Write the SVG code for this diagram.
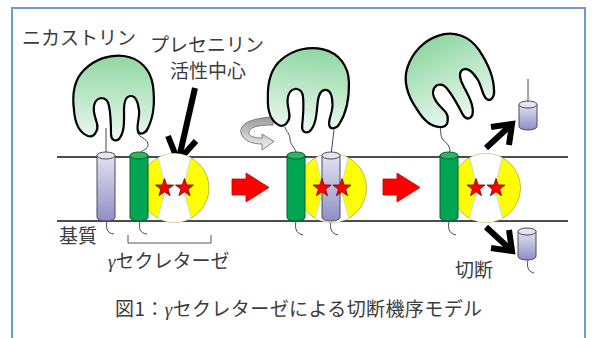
<svg xmlns="http://www.w3.org/2000/svg" xmlns:xlink="http://www.w3.org/1999/xlink" width="592" height="338" viewBox="0 0 592 338">
  <style>
    .lbl { font-family: "Noto Sans CJK JP", "Noto Sans", sans-serif; font-size: 19px; fill: #3c3c3c; }
    .cap { letter-spacing: 0.4px; }
    .greek { font-family: "Liberation Serif", "DejaVu Serif", serif; font-style: italic; }
    .membrane { stroke: #111; stroke-width: 1.3; fill: none; }
    .thread { stroke: #333; stroke-width: 0.9; fill: none; }
    .blob { fill: url(#gBlob); stroke: #000; stroke-width: 2.2; stroke-linejoin: round; }
    .subBody { fill: url(#gSub); stroke: #4a4a5a; stroke-width: 1; }
    .subTop { fill: #e6e6f2; stroke: #4a4a5a; stroke-width: 1; }
    .psBody { fill: #00a651; stroke: #00602c; stroke-width: 1; }
    .psTop { fill: #2bb566; stroke: #00602c; stroke-width: 1; }
    .pocket { fill: #ffff00; stroke: #a8a840; stroke-width: 0.8; }
    .gap { fill: #ffffff; stroke: #b4dfe9; stroke-width: 0.9; }
    .star { fill: #ff0000; stroke: #7a0000; stroke-width: 0.8; stroke-linejoin: round; }
    .redArrow { fill: #ff0000; stroke: #c00000; stroke-width: 0.8; }
    .bigArrow { fill: none; stroke: #000; stroke-width: 6; stroke-linejoin: miter; stroke-linecap: butt; }
    .bracket { fill: none; stroke: #555; stroke-width: 1; }
  </style>
  <defs>
    <linearGradient id="gBlob" x1="0" y1="0" x2="0" y2="1">
      <stop offset="0" stop-color="#8fd6a2"/>
      <stop offset="1" stop-color="#edf9f0"/>
    </linearGradient>
    <linearGradient id="gSub" x1="0" y1="0" x2="0" y2="1">
      <stop offset="0" stop-color="#e2e2f0"/>
      <stop offset="1" stop-color="#8e8ec6"/>
    </linearGradient>
    <linearGradient id="gTurn" x1="0" y1="0" x2="0" y2="1">
      <stop offset="0" stop-color="#9a9a9a"/>
      <stop offset="1" stop-color="#f4f4f4"/>
    </linearGradient>
    <clipPath id="pocketClip"><circle cx="0" cy="0" r="34.5"/></clipPath>
    <!-- nicastrin ectodomain outline -->
    <path id="nct" class="blob" d="M88,136 C80,133 75,124 74,110 C72,95 74,80 84,70 C95,59 110,54 124,56 C140,58 151,70 153,86 C155,102 153,118 148,128 C146,133 140,136 138,131 C136,126 140,118 139,110 C138,102 136,96 131,96 C126,96 124,102 124,110 C124,120 125,132 119,139 C115,142 111,140 111,134 C111,126 111,116 109,106 C108,100 105,98 101,98 C96,99 93,104 94,112 C95,120 100,126 96,132 C94,136 91,137 88,136 Z"/>
    <!-- active-site pocket of presenilin -->
    <g id="pocketBase">
      <circle class="pocket" cx="0" cy="0" r="34.5"/>
      <polygon class="gap" clip-path="url(#pocketClip)" points="-18,-38 18,-38 10,-5 10,6 19,38 -19,38 -10,6 -10,-5"/>
    </g>
    <polygon id="star" class="star" points="0,-9.5 2.24,-3.07 9.04,-2.94 3.61,1.17 5.58,7.69 0,3.8 -5.58,7.69 -3.61,1.17 -9.04,-2.94 -2.24,-3.07"/>
  </defs>

  <!-- frame -->
  <rect x="12" y="8" width="573" height="340" fill="#fff" stroke="#6f9bd5" stroke-width="2"/>

  <!-- lipid bilayer -->
  <g id="membrane">
    <line class="membrane" x1="57" y1="157" x2="568" y2="157"/>
    <line class="membrane" x1="57" y1="221" x2="568" y2="221"/>
  </g>

  <!-- connectors: tethers, tails and arrows -->
  <g id="connectors">
    <path class="thread" d="M106,155 L106,128"/>
    <path class="thread" d="M139,155 C140,150 149,150 148,144 C147,138 139,138 137,132"/>
    <path class="thread" d="M296,155 C297,148 290,146 290,139 C290,133 286,132 285,127"/>
    <path class="thread" d="M331,155 L334,130"/>
    <path class="thread" d="M449,155 C452,148 447,143 443,140 C440,136 441,130 440,124"/>
    <path class="thread" d="M528,79 L528,103"/>
    <path class="thread" d="M107,220 C106,228 106,233 114,234"/>
    <path class="thread" d="M140,220 C139,228 139,233 147,234"/>
    <path class="thread" d="M296,220 C295,228 295,233 303,235"/>
    <path class="thread" d="M331,220 C330,228 330,233 338,235"/>
    <path class="thread" d="M449,220 C448,228 448,233 456,235"/>
    <path class="thread" d="M528,259 C527,266 527,271 534,273"/>
    <!-- pointer to the active site -->
    <path class="bigArrow" d="M195,88 L179,158"/>
    <path class="bigArrow" d="M168,136 L178,161 L196,141"/>
    <!-- release arrows -->
    <path class="bigArrow" d="M486,148 L511,125"/>
    <path class="bigArrow" d="M491,127 L512,124 L509,145"/>
    <path class="bigArrow" d="M486,227 L511,250"/>
    <path class="bigArrow" d="M491,248 L512,251 L509,230"/>
    <!-- step arrows -->
    <polygon class="redArrow" points="232,179 246,179 246,173 269,187.5 246,202 246,195 232,195"/>
    <polygon class="redArrow" points="383,179 397,179 397,173 420,187.5 397,202 397,195 383,195"/>
    <!-- rotation of nicastrin -->
    <path d="M273,117 C251,118 239,124 241,133 C243,141 253,144 262,144 L262,150 L274,141.5 L262,134 L262,138 C254,138 248,136 249,132 C250,127 258,125 273,125 Z" fill="url(#gTurn)" stroke="#666" stroke-width="0.8"/>
  </g>

  <!-- stage 1: substrate docking -->
  <g id="nicastrin-1"><use href="#nct"/></g>
  <g id="substrate-1">
    <path class="subBody" d="M97,155.5 L97,217.5 A9,3.5 0 0 0 115,217.5 L115,155.5 Z"/>
    <ellipse class="subTop" cx="106" cy="155.5" rx="9" ry="3.5"/>
  </g>
  <g id="active-site-1">
    <use href="#pocketBase" x="174.5" y="188"/>
    <use href="#star" x="164.5" y="188"/>
    <use href="#star" x="184.5" y="188"/>
  </g>
  <g id="presenilin-1">
    <path class="psBody" d="M130,155.5 L130,217.5 A9,3.5 0 0 0 148,217.5 L148,155.5 Z"/>
    <ellipse class="psTop" cx="139" cy="155.5" rx="9" ry="3.5"/>
  </g>

  <!-- stage 2: substrate in the pocket -->
  <g id="nicastrin-2"><use href="#nct" transform="translate(195,-8) rotate(6 113 97)"/></g>
  <g id="active-site-2">
    <use href="#pocketBase" x="332" y="188"/>
  </g>
  <g id="presenilin-2">
    <path class="psBody" d="M287,155.5 L287,217.5 A9,3.5 0 0 0 305,217.5 L305,155.5 Z"/>
    <ellipse class="psTop" cx="296" cy="155.5" rx="9" ry="3.5"/>
  </g>
  <g id="substrate-2">
    <path class="subBody" d="M322,155.5 L322,217.5 A9,3.5 0 0 0 340,217.5 L340,155.5 Z"/>
    <ellipse class="subTop" cx="331" cy="155.5" rx="9" ry="3.5"/>
    <use href="#star" x="322" y="188"/>
    <use href="#star" x="342" y="188"/>
  </g>

  <!-- stage 3: cleavage products released -->
  <g id="nicastrin-3"><use href="#nct" transform="translate(447,79) rotate(-27) scale(1.04) translate(-113,-97)"/></g>
  <g id="active-site-3">
    <use href="#pocketBase" x="486" y="188"/>
    <use href="#star" x="476" y="188"/>
    <use href="#star" x="496" y="188"/>
  </g>
  <g id="presenilin-3">
    <path class="psBody" d="M440,155.5 L440,217.5 A9,3.5 0 0 0 458,217.5 L458,155.5 Z"/>
    <ellipse class="psTop" cx="449" cy="155.5" rx="9" ry="3.5"/>
  </g>
  <g id="fragment-out">
    <path class="subBody" d="M519,104.5 L519,126.5 A9,3.5 0 0 0 537,126.5 L537,104.5 Z"/>
    <ellipse class="subTop" cx="528" cy="104.5" rx="9" ry="3.5"/>
  </g>
  <g id="fragment-in">
    <path class="subBody" d="M518,231.5 L518,256.5 A9,3.5 0 0 0 536,256.5 L536,231.5 Z"/>
    <ellipse class="subTop" cx="527" cy="231.5" rx="9" ry="3.5"/>
  </g>

  <!-- labels -->
  <g id="labels">
    <text class="lbl" x="22" y="45">ニカストリン</text>
    <text class="lbl" x="150" y="52">プレセニリン</text>
    <text class="lbl" x="170" y="78">活性中心</text>
    <text class="lbl" x="59" y="243">基質</text>
    <path class="bracket" d="M128,235 L128,243 L211,243 L211,235"/>
    <text class="lbl" x="108" y="268"><tspan class="greek">γ</tspan>セクレターゼ</text>
    <text class="lbl" x="455" y="277">切断</text>
    <text class="lbl cap" x="115" y="316">図1：<tspan class="greek">γ</tspan>セクレターゼによる切断機序モデル</text>
  </g>
</svg>
